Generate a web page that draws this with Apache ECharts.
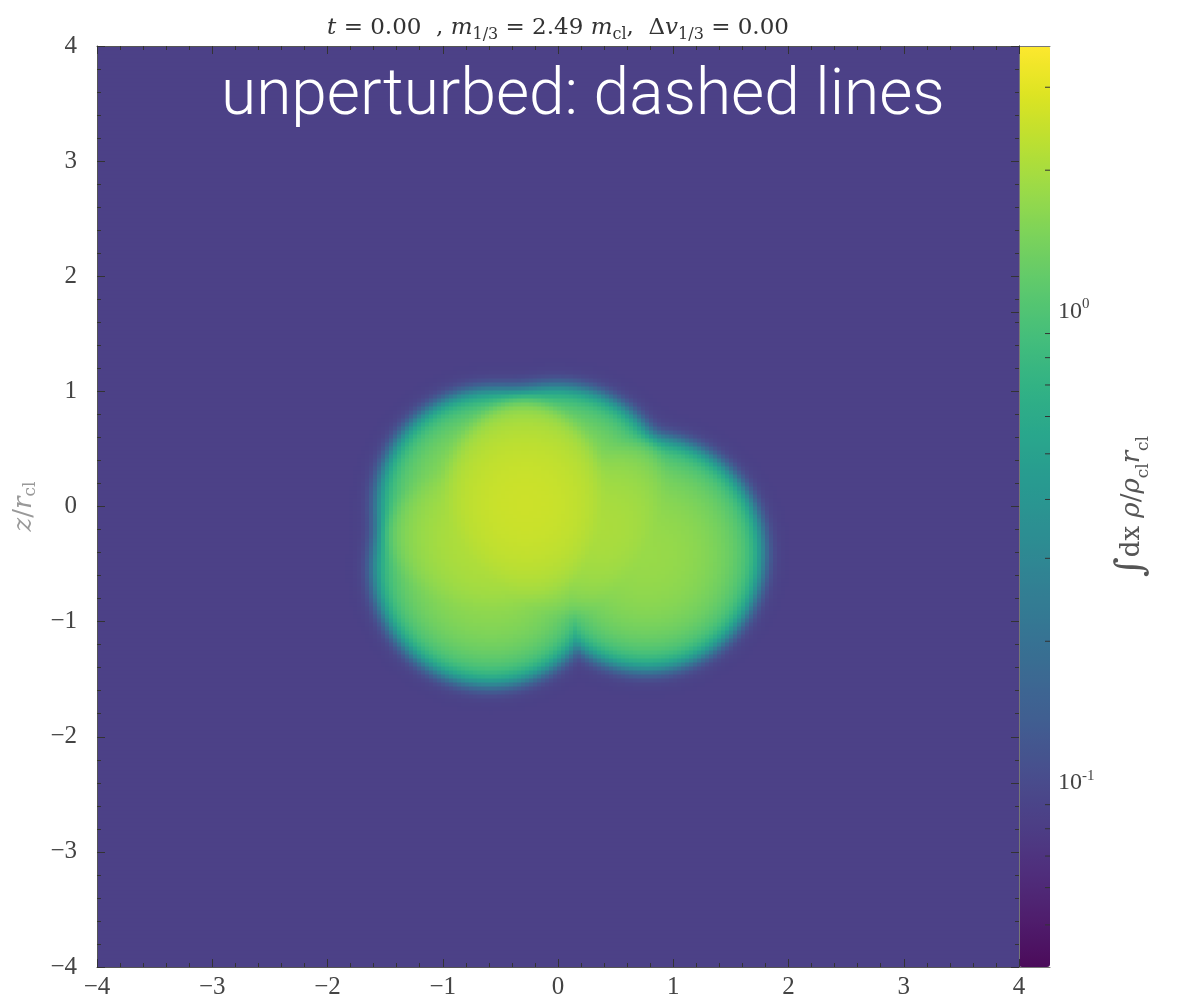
<!DOCTYPE html>
<html><head><meta charset="utf-8">
<script src="https://cdn.jsdelivr.net/npm/echarts@6/dist/echarts.min.js"></script>
<style>html,body{margin:0;padding:0;background:#fff}#c{width:1187px;height:1006px}</style>
</head><body><div id="c"></div>
<script>
// ---- data ----
// cloud centres: line-of-sight position, horizontal position (y), vertical position (z), radius
const cloudLos = [-0.5, 0.5, 0.0, 0.0];
const cloudY   = [-0.55, 0.0, -0.58, 0.78];
const cloudZ   = [0.0, 0.03, -0.54, -0.41];
const cloudR   = [1.0, 1.0, 1.0, 1.0];
const cloudDensity = [0.85, 0.85, 0.85, 0.85];
const edgeWidth = [0.07];                          // smoothing width of cloud edges
const backgroundColumn = [0.085];                 // column density of the hot medium
const axisRange = [-4, 4];
const colorbarRange = [0.0407, 3.67];
const colorbarMajor = [0.1, 1];
const colorbarMinor = [0.05, 0.06, 0.07, 0.08, 0.09, 0.2, 0.3, 0.4, 0.5, 0.6, 0.7, 0.8, 0.9, 2, 3];
const viridis = ['#440154','#481567','#482677','#453781','#404788','#39568c','#33638d','#2d708e','#287d8e','#238a8d','#1f968b','#20a387','#29af7f','#3cbb75','#55c667','#73d055','#95d840','#b8de29','#dce319','#fde725'];

// slight lift of the colour map toward white, as in the picture
const palette = viridis.map(h => {
  const c = [1, 3, 5].map(i => parseInt(h.substr(i, 2), 16));
  return 'rgb(' + c.map(v => Math.round(v + (255 - v) * 0.04)).join(',') + ')';
});

// ---- projected column density, integral of rho along the line of sight ----
const N = 230;
const cell = (axisRange[1] - axisRange[0]) / N;
const cats = [];
for (let i = 0; i < N; i++) cats.push(i);
function column(y, z) {
  let near = false;
  for (let k = 0; k < cloudY.length; k++) {
    if (Math.hypot(y - cloudY[k], z - cloudZ[k]) < cloudR[k] + 0.6) near = true;
  }
  if (!near) return backgroundColumn[0];
  let sum = 0; const dx = 0.02;
  for (let x = -2.8; x <= 2.8; x += dx) {
    let m = 0;
    for (let k = 0; k < cloudY.length; k++) {
      const r = Math.sqrt((x - cloudLos[k]) ** 2 + (y - cloudY[k]) ** 2 + (z - cloudZ[k]) ** 2);
      const p = cloudDensity[k] * 0.5 * (1 - Math.tanh((r - cloudR[k]) / edgeWidth[0]));
      if (p > m) m = p;
    }
    sum += m * dx;
  }
  return backgroundColumn[0] + sum;
}
const heat = [];
for (let i = 0; i < N; i++) {
  const y = axisRange[0] + (i + 0.5) * cell;
  for (let j = 0; j < N; j++) {
    const z = axisRange[0] + (j + 0.5) * cell;
    heat.push([i, j, Math.log10(column(y, z))]);
  }
}
const vmin = Math.log10(colorbarRange[0]), vmax = Math.log10(colorbarRange[1]);
const bgColor = echarts.color.lerp((Math.log10(backgroundColumn[0]) - vmin) / (vmax - vmin), palette);

const G = {left: 97, top: 46, width: 922, height: 921};
const H = {left: 97.25, top: 46.25, width: 920, height: 920};
const CB = {left: 1019, top: 46, width: 31, height: 921};
const serif = 'Liberation Serif';
const math = 'DejaVu Serif';
const minus = v => String(v).replace('-', '\u2212');
const tickCol = '#333';
const mainAxis = (pos, gridIndex, labels) => ({
  type: 'value', gridIndex, position: pos, min: axisRange[0], max: axisRange[1], interval: 1, z: 5,
  axisLine: {show: true, onZero: false, lineStyle: {color: '#555', width: 1}},
  axisTick: {show: true, inside: true, length: 8, lineStyle: {color: tickCol}},
  minorTick: {show: true, splitNumber: 5, length: 4, lineStyle: {color: tickCol}},
  splitLine: {show: false},
  axisLabel: {show: labels, formatter: minus, fontFamily: serif, fontSize: 25, color: '#444', margin: pos === 'left' ? 20 : 8}
});

const chart = echarts.init(document.getElementById('c'), null, {renderer: 'canvas'});
const yName = mainAxis('left', 1, true);
const yc = '#999';
Object.assign(yName, {
  name: '{i|z}{r|/}{i|r}{sub|cl}', nameLocation: 'middle', nameRotate: 90, nameGap: 41,
  nameTextStyle: {fontFamily: math, fontSize: 26, color: yc, lineHeight: 30,
    rich: {i: {fontStyle: 'italic', fontFamily: math, fontSize: 26, color: yc, lineHeight: 30},
           r: {fontFamily: math, fontSize: 26, color: yc, lineHeight: 30},
           sub: {fontFamily: math, fontSize: 17, color: yc, lineHeight: 17, verticalAlign: 'bottom'}}}
});
const lc = '#555';
const cbAxis = {
  type: 'log', gridIndex: 2, position: 'right', min: colorbarRange[0], max: colorbarRange[1], logBase: 10, z: 5,
  axisLine: {show: true, lineStyle: {color: '#777', width: 1}},
  axisTick: {show: true, inside: true, length: 8, lineStyle: {color: tickCol}},
  splitLine: {show: false},
  axisLabel: {show: true, showMinLabel: false, showMaxLabel: false, margin: 8,
    formatter: v => {
      const e = Math.round(Math.log10(v));
      if (Math.abs(Math.log10(v) - e) > 1e-6 || colorbarMajor.indexOf(Math.pow(10, e)) < 0) return '';
      return '10{sup|' + e + '}';
    },
    fontFamily: serif, fontSize: 24, color: '#444', lineHeight: 30,
    rich: {sup: {fontFamily: serif, fontSize: 15, color: '#444', lineHeight: 15, verticalAlign: 'top'}}},
  name: '{int|\u222B}{r|dx }{i|\u03C1}{r|/}{i|\u03C1}{sub|cl}{i|r}{sub|cl}', nameLocation: 'middle', nameRotate: 90, nameGap: 62,
  nameTextStyle: {fontFamily: math, fontSize: 26, color: lc, lineHeight: 40,
    rich: {int: {fontFamily: math, fontSize: 38, color: lc, lineHeight: 40},
           r: {fontFamily: math, fontSize: 26, color: lc, lineHeight: 40},
           i: {fontFamily: math, fontStyle: 'italic', fontSize: 26, color: lc, lineHeight: 40},
           sub: {fontFamily: math, fontSize: 17, color: lc, lineHeight: 26, verticalAlign: 'bottom'}}}
};
const plain = (type, gridIndex, pos, extra) => Object.assign({type, gridIndex, position: pos, z: 5,
  axisLine: {show: true, lineStyle: {color: '#777', width: 1}}, axisTick: {show: false}, axisLabel: {show: false}, splitLine: {show: false}}, extra);

const tc = '#333';
const option = {
  animation: false,
  backgroundColor: '#fff',
  title: {
    text: '{i|t} = 0.00 \u00A0, {i|m}{sub|1/3} = 2.49 {i|m}{sub|cl}, \u00A0\u0394{i|v}{sub|1/3} = 0.00',
    left: 553, top: 8, textAlign: 'center',
    textStyle: {fontFamily: math, fontSize: 23, fontWeight: 'normal', color: tc, lineHeight: 30,
      rich: {i: {fontFamily: math, fontStyle: 'italic', fontSize: 23, color: tc, lineHeight: 30},
             sub: {fontFamily: math, fontSize: 16, color: tc, lineHeight: 16, verticalAlign: 'bottom'}}}
  },
  grid: [
    Object.assign({}, H),
    Object.assign({show: true, backgroundColor: bgColor, borderWidth: 0}, G),
    Object.assign({}, CB)
  ],
  xAxis: [
    {type: 'category', gridIndex: 0, data: cats, show: false},
    mainAxis('bottom', 1, true),
    mainAxis('top', 1, false),
    plain('value', 2, 'bottom', {min: 0, max: 1}),
    plain('value', 2, 'top', {min: 0, max: 1})
  ],
  yAxis: [
    {type: 'category', gridIndex: 0, data: cats, show: false},
    yName,
    mainAxis('right', 1, false),
    cbAxis,
    plain('value', 2, 'left', {min: 0, max: 1})
  ],
  visualMap: {
    type: 'continuous', seriesIndex: 0, dimension: 2, min: vmin, max: vmax,
    inRange: {color: palette}, show: true, calculable: false, hoverLink: false,
    left: CB.left, top: CB.top, itemWidth: CB.width, itemHeight: CB.height, padding: 0, z: 1, text: null
  },
  series: [
    {type: 'heatmap', xAxisIndex: 0, yAxisIndex: 0, data: heat, progressive: 0, emphasis: {disabled: true}},
    {type: 'custom', xAxisIndex: 3, yAxisIndex: 3, z: 6, silent: true,
     data: colorbarMinor.map(v => [1, v]),
     renderItem: (params, api) => {
       const p = api.coord([1, api.value(1)]);
       return {type: 'line', shape: {x1: p[0] - 5, y1: p[1], x2: p[0], y2: p[1]}, style: {stroke: tickCol, lineWidth: 1}};
     }}
  ],
  graphic: [{
    type: 'text', left: 221, top: 66, z: 100,
    style: {text: 'unperturbed: dashed lines', fill: '#fff', fontFamily: 'Roboto', fontWeight: 300, fontSize: 64}
  }]
};
chart.setOption(option);
</script>
</body></html>
